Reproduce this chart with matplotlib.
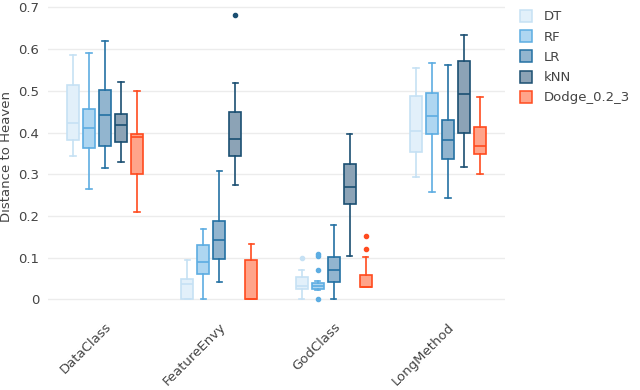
import matplotlib.pyplot as plt
import numpy as np

# data (whislo, q1, median, q3, whishi, outliers)
categories = ["DataClass", "FeatureEnvy", "GodClass", "LongMethod"]
learners = ["DT", "RF", "LR", "kNN", "Dodge_0.2_3"]

dt_stats = [(0.345, 0.382, 0.424, 0.514, 0.587, []),
            (0.0, 0.0, 0.038, 0.050, 0.095, []),
            (0.0, 0.026, 0.033, 0.054, 0.070, [0.100]),
            (0.294, 0.354, 0.404, 0.487, 0.556, [])]
rf_stats = [(0.265, 0.364, 0.412, 0.456, 0.590, []),
            (0.0, 0.062, 0.091, 0.131, 0.169, []),
            (0.022, 0.026, 0.033, 0.039, 0.045, [0.0, 0.070, 0.104, 0.110]),
            (0.258, 0.397, 0.439, 0.494, 0.568, [])]
lr_stats = [(0.316, 0.368, 0.442, 0.502, 0.619, []),
            (0.043, 0.097, 0.142, 0.189, 0.309, []),
            (0.0, 0.043, 0.071, 0.102, 0.178, []),
            (0.244, 0.337, 0.383, 0.429, 0.561, [])]
knn_stats = [(0.329, 0.377, 0.418, 0.444, 0.522, []),
             (0.275, 0.344, 0.385, 0.449, 0.518, [0.681]),
             (0.105, 0.228, 0.270, 0.325, 0.397, []),
             (0.317, 0.400, 0.492, 0.571, 0.635, [])]
dodge_stats = [(0.210, 0.300, 0.390, 0.396, 0.499, []),
               (0.0, 0.0, 0.0, 0.095, 0.133, []),
               (0.030, 0.030, 0.030, 0.059, 0.102, [0.122, 0.153]),
               (0.300, 0.348, 0.369, 0.413, 0.485, [])]
all_stats = [dt_stats, rf_stats, lr_stats, knn_stats, dodge_stats]

line_colors = ["#c6e1f4", "#5dade2", "#2471a3", "#1b4f72", "#ff4b1f"]
fill_colors = ["#e2f0fa", "#aed6f1", "#92b5cf", "#8ca3b6", "#ffa48a"]
offsets = [-0.28, -0.14, 0.0, 0.14, 0.28]

fig = plt.figure(figsize=(6.4, 3.9), dpi=100)
ax = fig.add_axes([0.0747, 0.2, 0.7147, 0.797])

for k, name in enumerate(learners):
    stats = []
    for s in all_stats[k]:
        stats.append(dict(whislo=s[0], q1=s[1], med=s[2], q3=s[3],
                          whishi=s[4], fliers=s[5]))
    pos = np.arange(len(categories)) + offsets[k]
    lc = line_colors[k]
    ax.bxp(stats, positions=pos, widths=0.105, patch_artist=True,
           showfliers=True, capwidths=0.045,
           boxprops=dict(facecolor=fill_colors[k], edgecolor=lc, linewidth=1.2),
           medianprops=dict(color=lc, linewidth=1.2),
           whiskerprops=dict(color=lc, linewidth=1.2),
           capprops=dict(color=lc, linewidth=1.2),
           flierprops=dict(marker="o", markersize=3, markerfacecolor=lc,
                           markeredgecolor=lc))
    ax.plot([], [], "s", markersize=8, markerfacecolor=fill_colors[k],
            markeredgecolor=lc, markeredgewidth=1.1, label=name)

ax.set_xlim(-0.5, 3.5)
ax.set_ylim(-0.03, 0.715)
ax.set_yticks(np.arange(0, 0.71, 0.1))
ax.set_yticklabels(["0", "0.1", "0.2", "0.3", "0.4", "0.5", "0.6", "0.7"])
ax.set_xticks(range(len(categories)))
ax.set_xticklabels(categories, rotation=45, ha="right", rotation_mode="anchor")
ax.grid(axis="y", color="#ececec", linewidth=1)
ax.set_axisbelow(True)
for sp in ax.spines.values():
    sp.set_visible(False)
ax.tick_params(length=0, labelsize=9.5, colors="#444444", pad=6)
ax.set_ylabel("Distance to Heaven", fontsize=9.5, color="#444444", labelpad=4)

ax.legend(loc="upper left", bbox_to_anchor=(1.01, 1.0), frameon=False,
          fontsize=9.5, labelcolor="#444444", handletextpad=0.9,
          labelspacing=0.55, handlelength=1.0, borderaxespad=0.3)

fig.savefig("out.png", dpi=100)
